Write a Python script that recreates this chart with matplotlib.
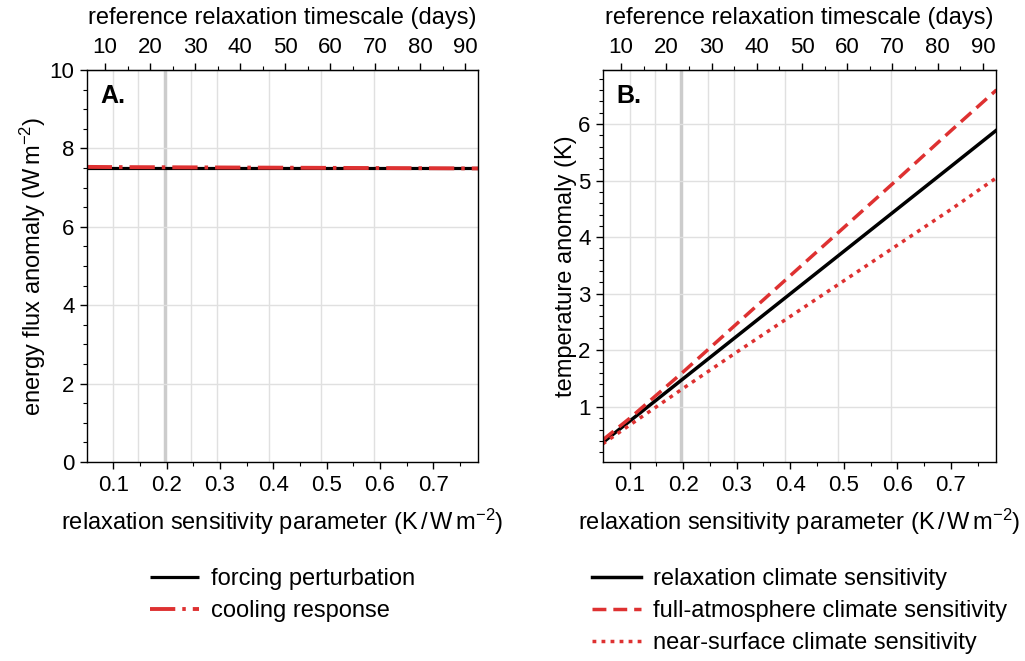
import matplotlib
matplotlib.use("Agg")
import matplotlib.pyplot as plt
from matplotlib.ticker import MultipleLocator, FixedLocator
import numpy as np

plt.rcParams["font.family"] = ["Liberation Sans", "DejaVu Sans"]
plt.rcParams["mathtext.fontset"] = "custom"
plt.rcParams["mathtext.rm"] = "Liberation Sans"
plt.rcParams["mathtext.it"] = "Liberation Sans:italic"
plt.rcParams["mathtext.bf"] = "Liberation Sans:bold"
plt.rcParams["font.size"] = 17
plt.rcParams["xtick.labelsize"] = 16
plt.rcParams["ytick.labelsize"] = 16

# relaxation sensitivity parameter (K / W m-2)
lam = [0.05, 0.1, 0.2, 0.3, 0.4, 0.5, 0.6, 0.7, 0.785]

# panel A: energy flux anomaly (W m-2)
forcing = [7.5, 7.5, 7.5, 7.5, 7.5, 7.5, 7.5, 7.5, 7.5]
cooling = [7.53, 7.525, 7.52, 7.515, 7.51, 7.505, 7.50, 7.495, 7.49]

# panel B: temperature anomaly (K)
relax_cs = [0.375, 0.75, 1.5, 2.25, 3.0, 3.75, 4.5, 5.25, 5.89]
full_cs = [0.42, 0.80, 1.62, 2.47, 3.32, 4.17, 5.02, 5.88, 6.60]
surf_cs = [0.35, 0.68, 1.33, 1.97, 2.60, 3.23, 3.86, 4.49, 5.05]

# simulations shown as faint vertical lines, reference one highlighted
sim_lam = [0.1, 0.147, 0.246, 0.295, 0.391, 0.490, 0.588]
ref_lam = 0.196

# top axis ticks (days)
day_ticks = [10, 20, 30, 40, 50, 60, 70, 80, 90]
day_minor = [5, 15, 25, 35, 45, 55, 65, 75, 85]

days_per_lam = 118.5  # timescale (days) per unit sensitivity parameter

red = "#de3131"
xlabel = r"relaxation sensitivity parameter (K$\,$/$\,$W$\,$m$^{-2}$)"

fig = plt.figure(figsize=(10.25, 6.61), dpi=100)
axA = fig.add_axes([0.0849, 0.301, 0.3815, 0.593])
axB = fig.add_axes([0.5883, 0.301, 0.3834, 0.593])


def style_axes(ax):
    ax.set_xlim(0.0505, 0.784)
    ax.xaxis.set_major_locator(MultipleLocator(0.1))
    ax.xaxis.set_minor_locator(MultipleLocator(0.05))
    ax.tick_params(which="major", length=5, width=1, direction="out", pad=4)
    ax.tick_params(which="minor", length=3, width=0.8, direction="out")
    for s in ax.spines.values():
        s.set_linewidth(1.0)
    ax.yaxis.grid(True, color="#e0e0e0", lw=1.0, zorder=0)
    ax.set_axisbelow(True)
    for v in sim_lam:
        ax.axvline(v, color="#e0e0e0", lw=1.0, zorder=0)
    ax.axvline(ref_lam, color="#cccccc", lw=2.5, zorder=0)
    ax.set_xlabel(xlabel, labelpad=8)
    top = ax.secondary_xaxis("top", functions=(lambda x: x * days_per_lam,
                                               lambda d: d / days_per_lam))
    top.xaxis.set_major_locator(FixedLocator(day_ticks))
    top.xaxis.set_minor_locator(FixedLocator(day_minor))
    top.tick_params(which="major", length=5, width=1, direction="out", pad=4)
    top.tick_params(which="minor", length=3, width=0.8, direction="out")
    top.set_xlabel("reference relaxation timescale (days)", labelpad=9)


leg_kw = dict(loc="upper center", bbox_to_anchor=(0.5, -0.217), frameon=False,
              handlelength=2.1, handletextpad=0.5, labelspacing=0.42,
              fontsize=17)

# panel A
style_axes(axA)
axA.plot(lam, forcing, color="black", lw=2.3, solid_capstyle="butt",
         label="forcing perturbation")
axA.plot(lam, cooling, color=red, lw=2.8, dashes=(6.5, 1.8, 0.9, 1.8),
         label="cooling response")
axA.set_ylim(0, 10)
axA.yaxis.set_major_locator(MultipleLocator(2))
axA.yaxis.set_minor_locator(MultipleLocator(0.5))
axA.set_ylabel(r"energy flux anomaly (W$\,$m$^{-2}$)", labelpad=1)
axA.text(0.033, 0.965, "A.", transform=axA.transAxes, fontsize=18,
         fontweight="bold", va="top", ha="left")
axA.legend(**leg_kw)

# panel B
style_axes(axB)
axB.plot(lam, relax_cs, color="black", lw=2.5,
         label="relaxation climate sensitivity")
axB.plot(lam, full_cs, color=red, lw=2.5, dashes=(4.0, 2.0),
         label="full-atmosphere climate sensitivity")
axB.plot(lam, surf_cs, color=red, lw=2.5, dashes=(1.1, 1.5),
         label="near-surface climate sensitivity")
axB.set_ylim(0.03, 6.95)
axB.yaxis.set_major_locator(MultipleLocator(1))
axB.yaxis.set_minor_locator(MultipleLocator(0.2))
axB.set_ylabel("temperature anomaly (K)", labelpad=1)
axB.text(0.033, 0.965, "B.", transform=axB.transAxes, fontsize=18,
         fontweight="bold", va="top", ha="left")
axB.legend(**leg_kw)

fig.savefig("out.png", dpi=100)
